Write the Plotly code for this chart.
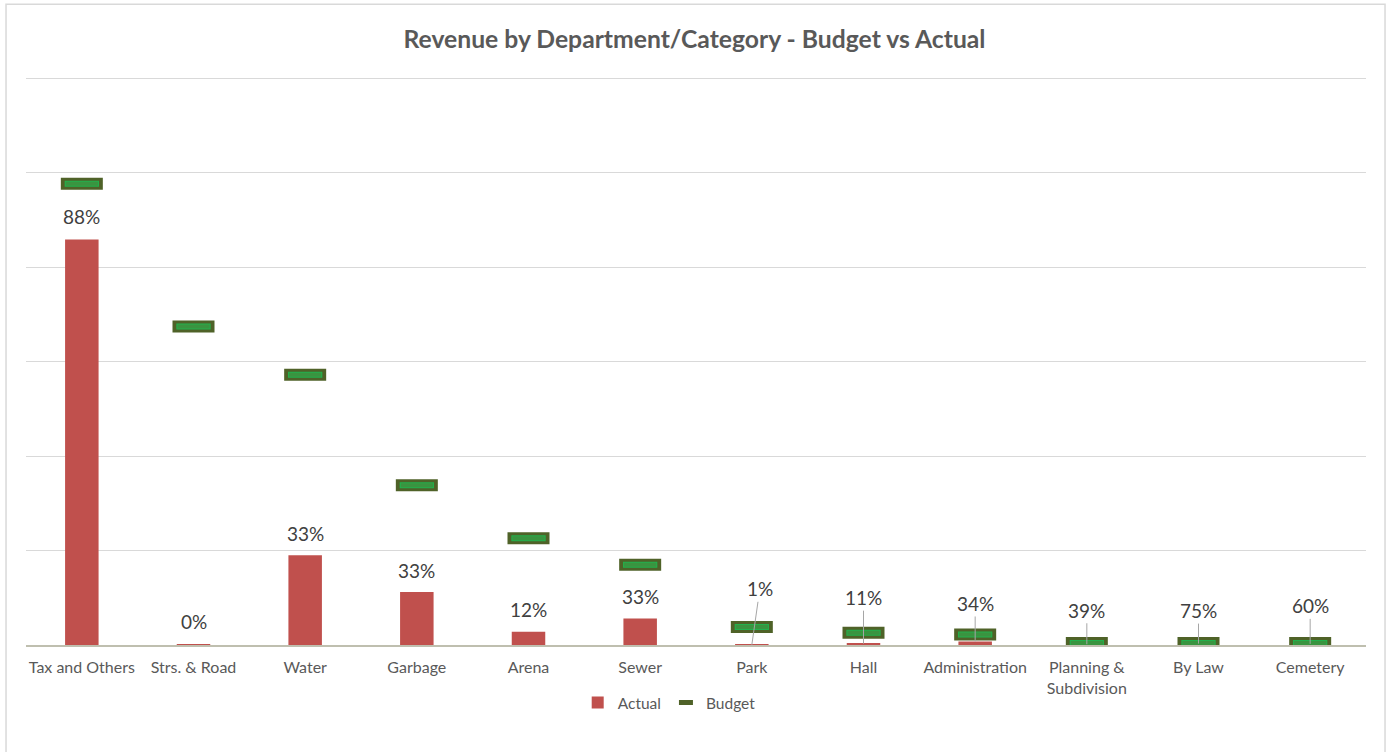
import plotly.graph_objects as go

# ---------------- data ----------------
categories = ["Tax and Others", "Strs. & Road", "Water", "Garbage", "Arena", "Sewer",
              "Park", "Hall", "Administration", "Planning &<br>Subdivision", "By Law", "Cemetery"]
budget = [4880000, 3370000, 2860000, 1690000, 1130000, 850000,
          190000, 130000, 110000, 20000, 20000, 20000]
actual = [4290000, 10000, 950000, 560000, 140000, 280000,
          2000, 14300, 37400, 7800, 15000, 12000]
grid_ticks = [0, 1000000, 2000000, 3000000, 4000000, 5000000, 6000000]

# ---------------- style ----------------
FONT = "Lato"
RED = "#C0504D"
# label placement (pixels above bar top) and whether a leader line is drawn
label_offset_px = [23, 23, 22, 22, 22, 22, 56, 46, 38, 34, 33, 38]
label_dx_px = [0, 0, 0, 0, 0, 0, 8, 0, 0, 0, 0, 0]
leader = [False, False, False, False, False, False, True, True, True, True, True, True]

fig = go.Figure()

fig.add_trace(go.Bar(
    x=categories, y=actual, name="Actual", width=0.3,
    marker=dict(color=RED, line=dict(width=0)),
    hoverinfo="x+y",
))

# budget markers: layered horizontal thick lines to mimic framed pill
fig.add_trace(go.Scatter(
    x=categories, y=budget, name="Budget", mode="markers", showlegend=False,
    legendgroup="budget",
    marker=dict(symbol="line-ew", size=30, color="#4F6228",
                line=dict(width=12, color="#4F6228")),
))
fig.add_trace(go.Scatter(
    x=categories, y=budget, name="Budget", mode="markers", showlegend=False,
    legendgroup="budget",
    marker=dict(symbol="line-ew", size=24.5, color="#22B14C",
                line=dict(width=6, color="#22B14C")),
    hoverinfo="skip",
))
fig.add_trace(go.Scatter(
    x=categories, y=budget, name="Budget", mode="markers", showlegend=False,
    legendgroup="budget",
    marker=dict(symbol="line-ew", size=23, color="#3A9440",
                line=dict(width=4, color="#3A9440")),
    hoverinfo="skip",
))
# legend entry for the budget marker (compact pill)
fig.add_trace(go.Scatter(
    x=[None], y=[None], name="Budget", mode="markers", legendgroup="budget",
    marker=dict(symbol="line-ew", size=10, color="#4F6228",
                line=dict(width=5, color="#4F6228")),
    hoverinfo="skip",
))

annotations = []
for i, (c, a, b) in enumerate(zip(categories, actual, budget)):
    pct = f"{round(a / b * 100)}%"
    if leader[i]:
        annotations.append(dict(
            x=c, y=a, xref="x", yref="y", text=pct, showarrow=True,
            arrowhead=0, arrowwidth=1, arrowcolor="#A6A6A6",
            ax=label_dx_px[i], ay=-label_offset_px[i], standoff=0,
            font=dict(family=FONT, size=19, color="#404040"),
        ))
    else:
        annotations.append(dict(
            x=c, y=a, xref="x", yref="y", text=pct, showarrow=False,
            yshift=label_offset_px[i], yanchor="middle",
            font=dict(family=FONT, size=19, color="#404040"),
        ))

fig.update_layout(
    width=1389, height=752,
    margin=dict(l=26, r=23, t=76, b=107),
    paper_bgcolor="white", plot_bgcolor="white",
    title=dict(text="<b>Revenue by Department/Category - Budget vs Actual</b>",
               x=0.5, xanchor="center", y=1 - 39 / 752, yanchor="middle",
               font=dict(family=FONT, size=24.7, color="#595959")),
    font=dict(family=FONT, color="#595959"),
    showlegend=True,
    legend=dict(orientation="h", x=0.48, xanchor="center", y=-0.102, yanchor="middle",
                font=dict(family=FONT, size=15.5, color="#595959"),
                itemwidth=30, bgcolor="rgba(0,0,0,0)"),
    bargap=0.7,
    annotations=annotations,
    shapes=[dict(type="rect", xref="paper", yref="paper",
                 x0=-0.0149, x1=1.0142, y0=-0.21, y1=1.1261,
                 line=dict(color="#D9D9D9", width=1.5), fillcolor="rgba(0,0,0,0)",
                 layer="below")],
)
fig.update_xaxes(
    range=[-0.5, 11.5],
    showgrid=False, showline=True, linecolor="#BFBFAF", linewidth=1.5,
    ticks="", ticklabelstandoff=7,
    tickfont=dict(family=FONT, size=16, color="#595959"),
    fixedrange=True,
)
fig.update_yaxes(
    range=[0, 6021164], tickvals=grid_ticks, showticklabels=False,
    showgrid=True, gridcolor="#D9D9D9", gridwidth=1, zeroline=False,
    fixedrange=True,
)

fig.write_html("out.html")
